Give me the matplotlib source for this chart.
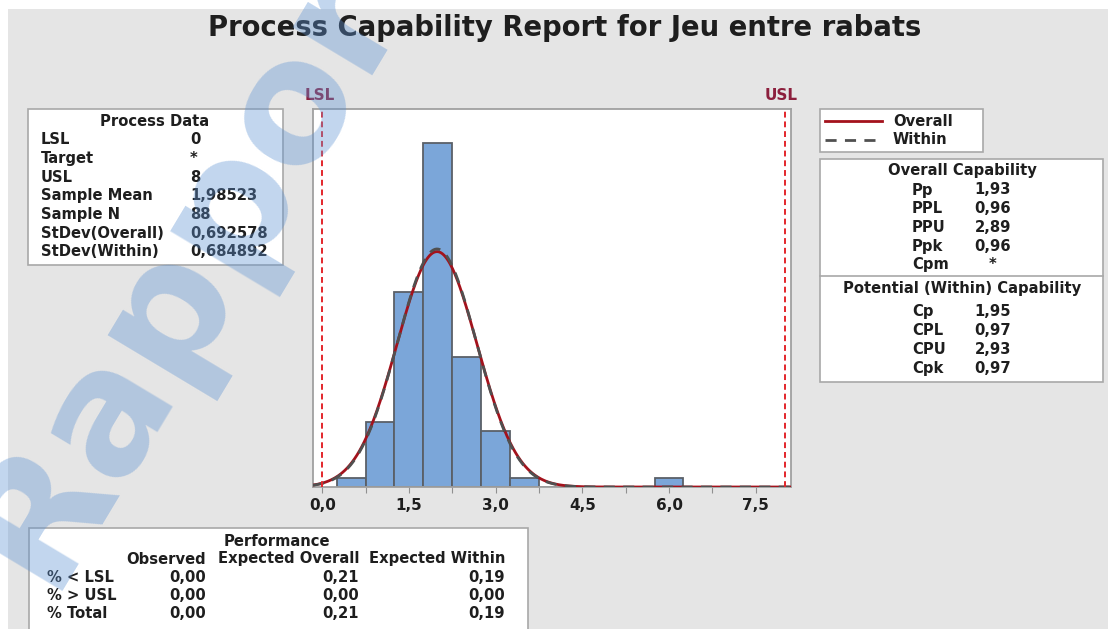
import numpy as np
import matplotlib
matplotlib.use("Agg")
import matplotlib.pyplot as plt
from matplotlib.patches import Rectangle
from matplotlib.lines import Line2D

# ---- data -------------------------------------------------------------
title = "Process Capability Report for Jeu entre rabats"

lsl = 0.0
usl = 8.0
mean = 1.98523
n_obs = 88
sd_overall = 0.692578
sd_within = 0.684892

bin_centers = [0.5, 1.0, 1.5, 2.0, 2.5, 3.0, 3.5, 4.0, 4.5, 5.0, 5.5, 6.0]
bin_counts = [1, 7, 21, 37, 14, 6, 1, 0, 0, 0, 0, 1]
bin_width = 0.5

x_ticks = [0.0, 1.5, 3.0, 4.5, 6.0, 7.5]
x_tick_labels = ["0,0", "1,5", "3,0", "4,5", "6,0", "7,5"]

process_labels = ["LSL", "Target", "USL", "Sample Mean", "Sample N",
                  "StDev(Overall)", "StDev(Within)"]
process_values = ["0", "*", "8", "1,98523", "88", "0,692578", "0,684892"]

overall_labels = ["Pp", "PPL", "PPU", "Ppk", "Cpm"]
overall_values = ["1,93", "0,96", "2,89", "0,96", "*"]
within_labels = ["Cp", "CPL", "CPU", "Cpk"]
within_values = ["1,95", "0,97", "2,93", "0,97"]

perf_columns = ["Observed", "Expected Overall", "Expected Within"]
perf_rows = ["% < LSL", "% > USL", "% Total"]
perf_observed = ["0,00", "0,00", "0,00"]
perf_exp_overall = ["0,21", "0,00", "0,21"]
perf_exp_within = ["0,19", "0,00", "0,19"]

# ---- layout helpers (pixel coordinates, origin top-left) --------------
W, H = 1108, 629
TXT = "#1e1e1e"
FONT = "DejaVu Sans"


def fx(x):
    return x / W


def fy(y):
    return 1 - y / H


def box(fig, x0, y0, x1, y1):
    fig.add_artist(Rectangle((fx(x0), fy(y1)), fx(x1) - fx(x0), fy(y0) - fy(y1),
                             transform=fig.transFigure, facecolor="white",
                             edgecolor="#a8a8a8", lw=1.2, zorder=1))


def put(fig, x, y, s, ha="left", size=10.6, color=TXT, weight="bold"):
    fig.text(fx(x), fy(y), s, ha=ha, va="center", fontsize=size,
             fontweight=weight, color=color, family=FONT, zorder=3)


fig = plt.figure(figsize=(W / 100, H / 100), dpi=100, facecolor="white")
fig.add_artist(Rectangle((fx(8), 0), 1 - fx(8), fy(9), transform=fig.transFigure,
                         facecolor="#e5e5e5", edgecolor="none", zorder=0))

put(fig, 565, 28, title, ha="center", size=19.8, weight="bold")

# ---- histogram with fitted normal curves ------------------------------
ax = fig.add_axes([fx(313), fy(487), fx(791) - fx(313), fy(109) - fy(487)])
ax.set_facecolor("white")
ax.bar(bin_centers, bin_counts, width=bin_width, color="#7ba6d9",
       edgecolor="#5a6068", linewidth=1.3, zorder=2)

xlim = (-0.16, 8.11)
xs = np.linspace(xlim[0], xlim[1], 600)
scale = n_obs * bin_width
pdf_over = scale * np.exp(-0.5 * ((xs - mean) / sd_overall) ** 2) / (sd_overall * np.sqrt(2 * np.pi))
pdf_within = scale * np.exp(-0.5 * ((xs - mean) / sd_within) ** 2) / (sd_within * np.sqrt(2 * np.pi))
ax.plot(xs, pdf_over, color="#a3121c", lw=2.0, zorder=3)
ax.plot(xs, pdf_within, color="#505050", lw=2.0, ls=(0, (4, 3)), zorder=4)

for v in (lsl, usl):
    ax.axvline(v, color="#e3262b", lw=1.4, ls=(0, (3, 2)), zorder=5)

ax.set_xlim(*xlim)
ax.set_ylim(0, 40.7)
ax.set_yticks([])
ax.set_xticks(np.arange(0, 8.0, 0.75))
ax.set_xticklabels([x_tick_labels[x_ticks.index(t)] if t in x_ticks else ""
                    for t in np.arange(0, 8.0, 0.75)])
ax.tick_params(axis="x", length=4, color="#909090", labelsize=11, pad=4,
               labelcolor=TXT)
for lab in ax.get_xticklabels():
    lab.set_fontweight("bold")
for sp in ax.spines.values():
    sp.set_color("#a0a0a0")
    sp.set_linewidth(1.3)

put(fig, 320, 95, "LSL", ha="center", size=11, color="#8c1f3d")
put(fig, 781, 95, "USL", ha="center", size=11, color="#8c1f3d")

# ---- process data box -------------------------------------------------
box(fig, 28, 109, 283, 265)
put(fig, 155, 121, "Process Data", ha="center")
for i, (lab, val) in enumerate(zip(process_labels, process_values)):
    y = 140 + i * 18.6
    put(fig, 41, y, lab)
    put(fig, 190, y, val)

# ---- legend -----------------------------------------------------------
box(fig, 820, 109, 983, 152)
fig.add_artist(Line2D([fx(825), fx(882)], [fy(121), fy(121)], color="#a3121c",
                      lw=2.0, transform=fig.transFigure, zorder=3))
fig.add_artist(Line2D([fx(825), fx(882)], [fy(140), fy(140)], color="#505050",
                      lw=2.0, ls=(0, (4, 3)), transform=fig.transFigure, zorder=3))
put(fig, 893, 121, "Overall")
put(fig, 893, 140, "Within")

# ---- capability box ---------------------------------------------------
box(fig, 820, 159, 1103, 382)
fig.add_artist(Line2D([fx(820), fx(1103)], [fy(276), fy(276)], color="#a8a8a8",
                      lw=1.2, transform=fig.transFigure, zorder=2))
put(fig, 962, 171, "Overall Capability", ha="center")
for i, (lab, val) in enumerate(zip(overall_labels, overall_values)):
    y = 190 + i * 18.7
    put(fig, 912, y, lab)
    put(fig, 993, y, val, ha="center")
put(fig, 962, 288, "Potential (Within) Capability", ha="center")
for i, (lab, val) in enumerate(zip(within_labels, within_values)):
    y = 312 + i * 18.7
    put(fig, 912, y, lab)
    put(fig, 993, y, val, ha="center")

# ---- performance box --------------------------------------------------
box(fig, 29, 528, 528, 640)
put(fig, 277, 541, "Performance", ha="center")
col_right = [206, 359, 505]
for x, head in zip(col_right, perf_columns):
    put(fig, x, 559, head, ha="right")
for i, row in enumerate(perf_rows):
    y = 577 + i * 18.5
    put(fig, 47, y, row)
    for x, vals in zip(col_right, (perf_observed, perf_exp_overall, perf_exp_within)):
        put(fig, x, y, vals[i], ha="right")

# ---- watermark ----------------------------------------------------------
fig.text(fx(47), fy(591), "Rapport", rotation=59, rotation_mode="anchor",
         ha="left", va="baseline", fontsize=122, fontweight="bold",
         color="#5e93d3", alpha=0.38, family=FONT, zorder=50)

fig.savefig("out.png", dpi=100, facecolor="white")
